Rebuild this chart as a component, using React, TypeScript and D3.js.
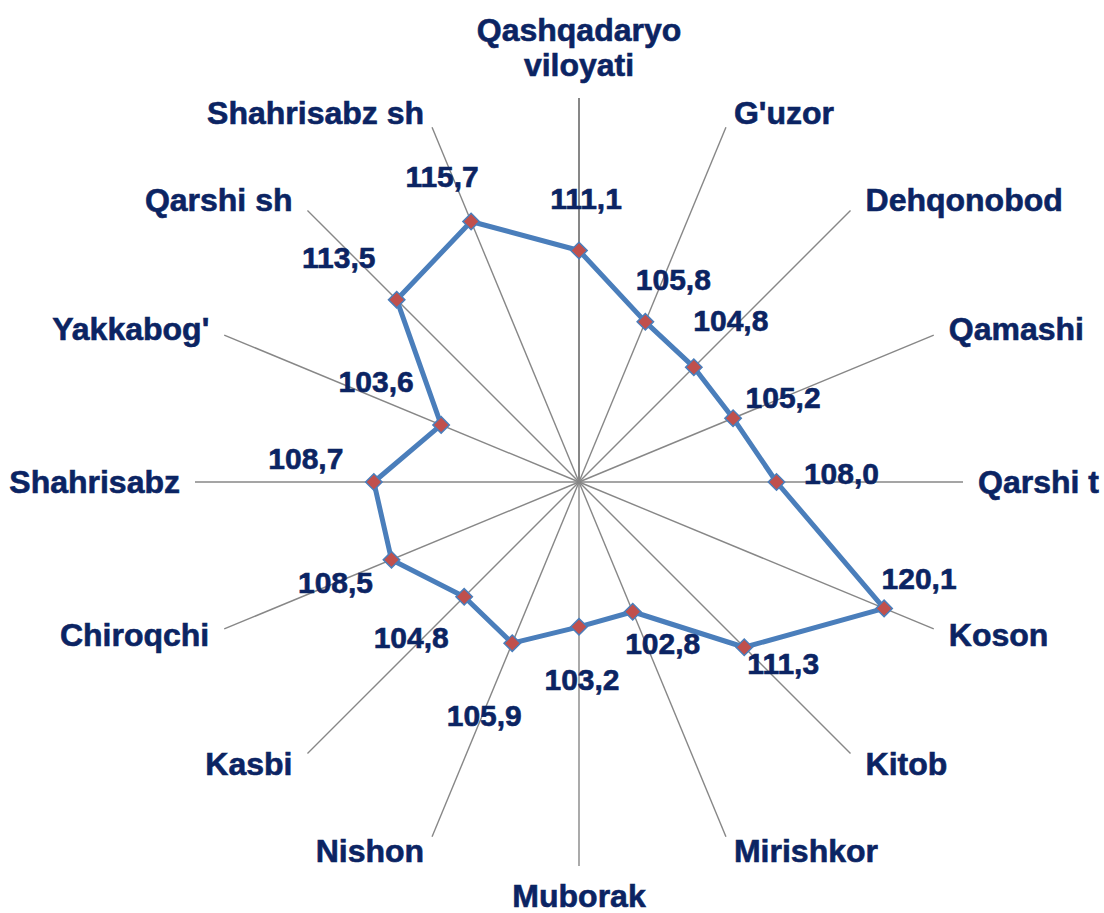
import React, { useRef, useEffect } from 'react';
import * as d3 from 'd3';

// Categories, clockwise from the top
const districts = [
  ['Qashqadaryo', 'viloyati'],
  ["G'uzor"],
  ['Dehqonobod'],
  ['Qamashi'],
  ['Qarshi t'],
  ['Koson'],
  ['Kitob'],
  ['Mirishkor'],
  ['Muborak'],
  ['Nishon'],
  ['Kasbi'],
  ['Chiroqchi'],
  ['Shahrisabz'],
  ["Yakkabog'"],
  ['Qarshi sh'],
  ['Shahrisabz sh'],
];

// Series values (growth index, %)
const values = [111.1, 105.8, 104.8, 105.2, 108.0, 120.1, 111.3, 102.8, 103.2, 105.9, 104.8, 108.5, 108.7, 103.6, 113.5, 115.7];

// Radial axis bounds
const axisMin = 90;
const axisMax = 125;

// Hand-placed data label offsets (px from marker), as in the source chart
const valueLabelOffsets = [
  [7, -52], [28, -42], [37, -47], [50, -21], [65, -9], [35, -30], [39, 16], [30, 32],
  [3, 53], [-28, 72], [-53, 41], [-56, 23], [-68, -24], [-65, -43], [-58, -42], [-29, -45],
];

const RadarChart = () => {
  const chartRef = useRef(null);

  useEffect(() => {
    d3.select(chartRef.current).selectAll('*').remove();

    const width = 1104;
    const height = 913;
    const cx = 579;
    const cy = 482;
    const radius = 384;
    const textColor = '#0B2463';
    const font = "'Liberation Sans', Arial, sans-serif";
    const n = districts.length;

    const fmt = d3.formatLocale({ decimal: ',', thousands: ' ', grouping: [3], currency: ['', ''] }).format('.1f');

    const r = d3.scaleLinear().domain([axisMin, axisMax]).range([0, radius]);
    const angle = d3.scaleLinear().domain([0, n]).range([0, 2 * Math.PI]);

    const svg = d3.select(chartRef.current)
      .append('svg')
      .attr('width', width)
      .attr('height', height)
      .style('position', 'absolute')
      .style('left', 0)
      .style('top', 0)
      .style('background', '#fff');

    const g = svg.append('g').attr('transform', `translate(${cx},${cy})`);

    // Spokes
    g.selectAll('.spoke')
      .data(districts)
      .enter()
      .append('line')
      .attr('x1', 0)
      .attr('y1', 0)
      .attr('x2', (d, i) => radius * Math.sin(angle(i)))
      .attr('y2', (d, i) => -radius * Math.cos(angle(i)))
      .attr('stroke', '#878787')
      .attr('stroke-width', (d, i) => (i === 0 ? 2 : 1.4));

    // Series line
    const line = d3.lineRadial()
      .angle((d, i) => angle(i))
      .radius(d => r(d))
      .curve(d3.curveLinearClosed);

    g.append('path')
      .datum(values)
      .attr('d', line)
      .attr('fill', 'none')
      .attr('stroke', '#4A7EBB')
      .attr('stroke-width', 5)
      .attr('stroke-linejoin', 'round');

    // Markers (square rotated into a diamond)
    const marker = d3.symbol().type(d3.symbolSquare).size(135);
    const px = (v, i) => r(v) * Math.sin(angle(i));
    const py = (v, i) => -r(v) * Math.cos(angle(i));

    g.selectAll('.marker')
      .data(values)
      .enter()
      .append('path')
      .attr('d', marker)
      .attr('transform', (d, i) => `translate(${px(d, i)},${py(d, i)}) rotate(45)`)
      .attr('fill', '#C0504D')
      .attr('stroke', '#4A7EBB')
      .attr('stroke-width', 1.5);

    // Data labels
    g.selectAll('.value')
      .data(values)
      .enter()
      .append('text')
      .attr('x', (d, i) => px(d, i) + valueLabelOffsets[i][0])
      .attr('y', (d, i) => py(d, i) + valueLabelOffsets[i][1])
      .attr('text-anchor', 'middle')
      .attr('dominant-baseline', 'central')
      .attr('font-family', font)
      .attr('font-weight', 'bold')
      .attr('font-size', 30)
      .attr('fill', textColor)
      .attr('stroke', textColor)
      .attr('stroke-width', 0.6)
      .text(d => fmt(d));

    // Category labels
    const lineHeight = 35;
    districts.forEach((lines, i) => {
      const s = Math.sin(angle(i));
      const c = Math.cos(angle(i));
      const ex = radius * s;
      const ey = -radius * c;
      let anchor = 'middle';
      let x = ex;
      let y0;
      if (Math.abs(s) < 0.1) {
        y0 = c > 0 ? ey - 33 - (lines.length - 1) * lineHeight : ey + 30;
      } else {
        const pad = Math.abs(c) > 0.9 ? 8 : 15;
        anchor = s > 0 ? 'start' : 'end';
        x = ex + Math.sign(s) * pad;
        y0 = ey - c * 15 - ((lines.length - 1) * lineHeight) / 2;
      }
      const t = g.append('text')
        .attr('text-anchor', anchor)
        .attr('font-family', font)
        .attr('font-weight', 'bold')
        .attr('font-size', 32)
        .attr('fill', textColor)
        .attr('stroke', textColor)
        .attr('stroke-width', 0.6);
      lines.forEach((ln, k) => {
        t.append('tspan')
          .attr('x', x)
          .attr('y', y0 + k * lineHeight)
          .attr('dominant-baseline', 'central')
          .text(ln);
      });
    });

    return () => {
      d3.select(chartRef.current).selectAll('*').remove();
    };
  }, []);

  return <div ref={chartRef} style={{ width: '1104px', height: '913px' }} />;
};

export default function App() {
  return <RadarChart />;
}
